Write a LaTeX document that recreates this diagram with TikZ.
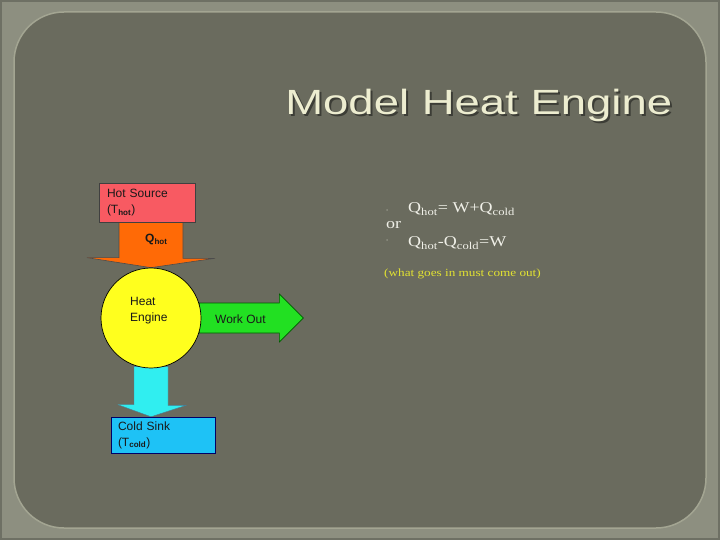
\documentclass[tikz,border=0pt]{standalone}
\usepackage{fontspec}
\setmainfont{Liberation Serif}
\newfontfamily\boxfont{Liberation Sans}
\usepackage{xcolor}
\definecolor{cFrame}{HTML}{8D8F80}
\definecolor{cEdge}{HTML}{6E7064}
\definecolor{cSlide}{HTML}{6A6B5E}
\definecolor{cRim}{HTML}{A3A592}
\definecolor{cHot}{HTML}{F85A62}
\definecolor{cFlowHot}{HTML}{FF6A06}
\definecolor{cEngine}{HTML}{FFFF1E}
\definecolor{cWork}{HTML}{22E022}
\definecolor{cFlowCold}{HTML}{30EEF0}
\definecolor{cCold}{HTML}{1EC2F6}
\definecolor{cTitle}{HTML}{EDEDD0}
\definecolor{cShadow}{HTML}{3C3D36}
\definecolor{cText}{HTML}{F0F0E8}
\definecolor{cNote}{HTML}{E2E232}
\definecolor{cDot}{HTML}{8E8F82}
\usepackage{tikz}
\usetikzlibrary{calc,backgrounds}
\tikzset{
  node-box/.style={draw=black!75,line width=0.6pt,align=left,inner ysep=0pt,
    font=\boxfont\fontsize{12}{16}\selectfont,text=black!90},
  node-hot/.style={node-box,fill=cHot,minimum width=96pt,minimum height=39pt,
    text width=80pt,inner xsep=8pt},
  node-cold/.style={node-box,draw=blue!40!black,fill=cCold,minimum width=104pt,
    minimum height=36pt,text width=90pt,inner xsep=7pt},
  node-engine/.style={circle,draw=black,line width=0.7pt,fill=cEngine,
    minimum size=100pt,inner sep=0pt},
  node-label/.style={anchor=base west,inner sep=0pt,align=left,
    font=\boxfont\fontsize{12}{16}\selectfont,text=black!90},
  node-title/.style={anchor=base west,inner sep=0pt,xscale=1.3,
    font=\boxfont\fontsize{35}{40}\selectfont,text=cTitle},
  node-eq/.style={anchor=base west,inner sep=0pt,xscale=1.2,
    font=\fontsize{15}{18}\selectfont,text=cText},
  node-note/.style={anchor=base west,inner sep=0pt,xscale=1.2,
    font=\fontsize{11}{13}\selectfont,text=cNote},
  node-dot/.style={circle,fill=cDot,inner sep=0pt,minimum size=2pt},
  flow-hot/.style={fill=cFlowHot,draw=black!70,line width=0.6pt,line join=miter},
  flow-work/.style={fill=cWork,draw=green!35!black,line width=0.6pt,line join=miter},
  flow-cold/.style={fill=cFlowCold,draw=cyan!55!black,line width=0.4pt,line join=miter},
}

\begin{document}
\begin{tikzpicture}[x=1pt,y=-1pt]
  \useasboundingbox (0,0) rectangle (720,540);

  % title
  \node[node-title,text=cShadow] (title-shadow) at (287,117) {Model Heat Engine};
  \node[node-title] (title) at (285,115) {Model Heat Engine};

  % engine diagram
  \node[node-hot] (hot) at (147,202.5)
    {Hot Source\\(T\textsubscript{\textbf{hot}})};
  \node[node-engine] (engine) at (151,318) {};
  \node[node-cold] (cold) at (163,435)
    {Cold Sink\\(T\textsubscript{\textbf{cold}})};

  \begin{scope}[on background layer]
    % slide
    \fill[cEdge] (0,0) rectangle (720,540);
    \fill[cFrame] (2,2) rectangle (718,538);
    \filldraw[fill=cSlide,draw=cRim,line width=1.5pt,rounded corners=50pt]
      (14,12) rectangle (706,528);
    % flows
    \draw[flow-hot] ($(hot.south -| engine.north)+(-32,0)$) -- ++(64,0)
      -- ++(0,36) -- ++(32,0) -- (engine.north) -- ++(-64,-10) -- ++(32,0) -- cycle;
    \draw[flow-work] ($(engine.east)+(-2,-15)$) -- ++(80,0) -- ++(0,-9)
      -- ++(24,24) -- ++(-24,24) -- ++(0,-9) -- ++(-80,0) -- cycle;
    \draw[flow-cold] ($(engine.south)+(-17,-2)$) -- ++(34,0) -- ++(0,39)
      -- ++(18,0) -- (cold.north -| engine.south) -- ++(-33,-12) -- ++(16,0) -- cycle;
  \end{scope}

  \node[node-label] (qhot) at (145,243) {\textbf{Q}\textsubscript{\textbf{hot}}};
  \node[node-label] (engine-text) at (130,321) {Heat\\Engine};
  \node[node-label] (work) at (215,323) {Work Out};

  % balance
  \node[node-dot] (dot1) at (387,210) {};
  \node[node-dot] (dot2) at (387,240) {};
  \node[node-eq] (eq1) at (408,213) {Q\textsubscript{hot}= W+Q\textsubscript{cold}};
  \node[node-eq] (or)  at (386,229) {or};
  \node[node-eq] (eq2) at (408,247) {Q\textsubscript{hot}-Q\textsubscript{cold}=W};
  \node[node-note] (note) at (384,276) {(what goes in must come out)};
\end{tikzpicture}
\end{document}
